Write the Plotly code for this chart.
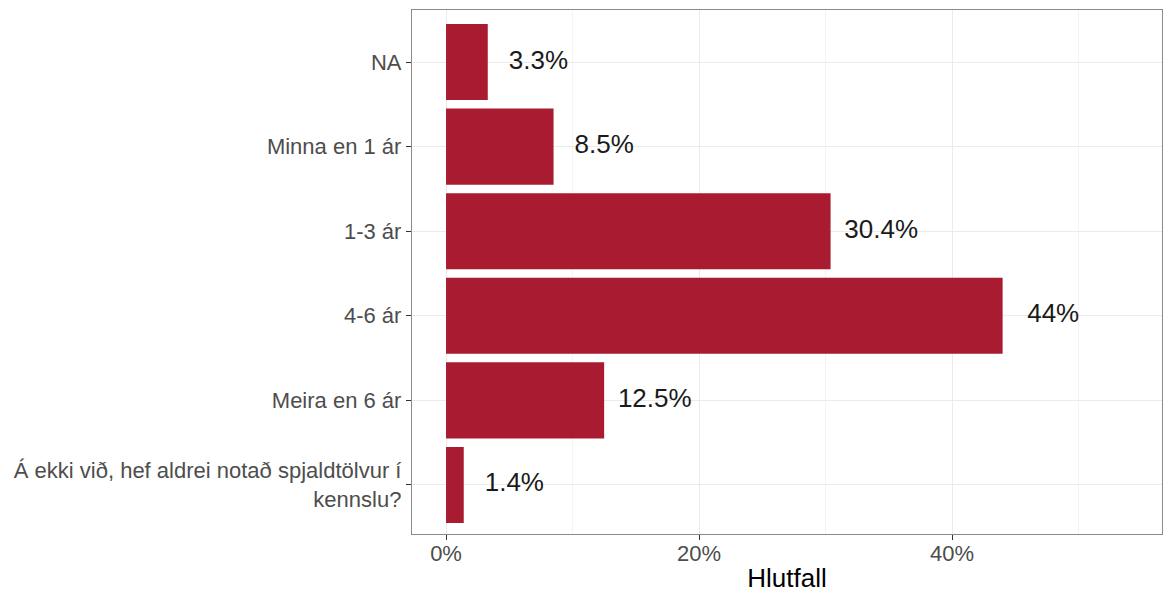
import plotly.graph_objects as go

# Flokkar (neðst upp) / categories, bottom to top like ggplot
flokkar = [
    "Á ekki við, hef aldrei notað spjaldtölvur í<br>kennslu?",
    "Meira en 6 ár",
    "4-6 ár",
    "1-3 ár",
    "Minna en 1 ár",
    "NA",
]
hlutfall = [1.4, 12.5, 44.0, 30.4, 8.5, 3.3]
merki = ["1.4%", "12.5%", "44%", "30.4%", "8.5%", "3.3%"]

bar_color = "#A91B30"
label_offset = 4.0

fig = go.Figure()

fig.add_trace(go.Bar(
    x=hlutfall,
    y=flokkar,
    orientation="h",
    width=0.9,
    marker=dict(color=bar_color, line=dict(width=0)),
    hoverinfo="skip",
))

fig.add_trace(go.Scatter(
    x=[v + label_offset for v in hlutfall],
    y=flokkar,
    mode="text",
    text=merki,
    textposition="middle center",
    textfont=dict(family="Liberation Sans, Arial, sans-serif", size=26, color="#1a1a1a"),
    hoverinfo="skip",
))

fig.update_layout(
    width=1164,
    height=596,
    margin=dict(l=412, r=2, t=10, b=62),
    paper_bgcolor="white",
    plot_bgcolor="white",
    showlegend=False,
    font=dict(family="Liberation Sans, Arial, sans-serif"),
)

fig.update_xaxes(
    automargin=False,
    range=[-2.69, 56.6],
    tick0=0,
    dtick=20,
    ticksuffix="%",
    ticks="outside",
    ticklen=5,
    tickcolor="#333333",
    ticklabelstandoff=-6,
    tickfont=dict(size=22, color="#4d4d4d"),
    showgrid=True,
    gridcolor="#ebebeb",
    gridwidth=1,
    minor=dict(dtick=10, tick0=0, showgrid=True, gridcolor="#f4f4f4", gridwidth=1),
    zeroline=False,
    showline=True,
    mirror=True,
    linecolor="#8a8a8a",
    linewidth=1.3,
    title=dict(text="Hlutfall", font=dict(size=26, color="#000000"), standoff=4),
)

fig.update_yaxes(
    automargin=False,
    type="category",
    categoryorder="array",
    categoryarray=flokkar,
    range=[-0.58, 5.615],
    ticks="outside",
    ticklen=5,
    tickcolor="#333333",
    tickfont=dict(size=22, color="#4d4d4d"),
    showgrid=True,
    gridcolor="#ebebeb",
    gridwidth=1,
    zeroline=False,
    showline=True,
    mirror=True,
    linecolor="#8a8a8a",
    linewidth=1.3,
)

# enlever la marge du body pour que le graphique commence en (0,0)
fig.write_html(
    "out.html",
    config={"displayModeBar": False},
    post_script="document.body.style.margin='0';",
)
